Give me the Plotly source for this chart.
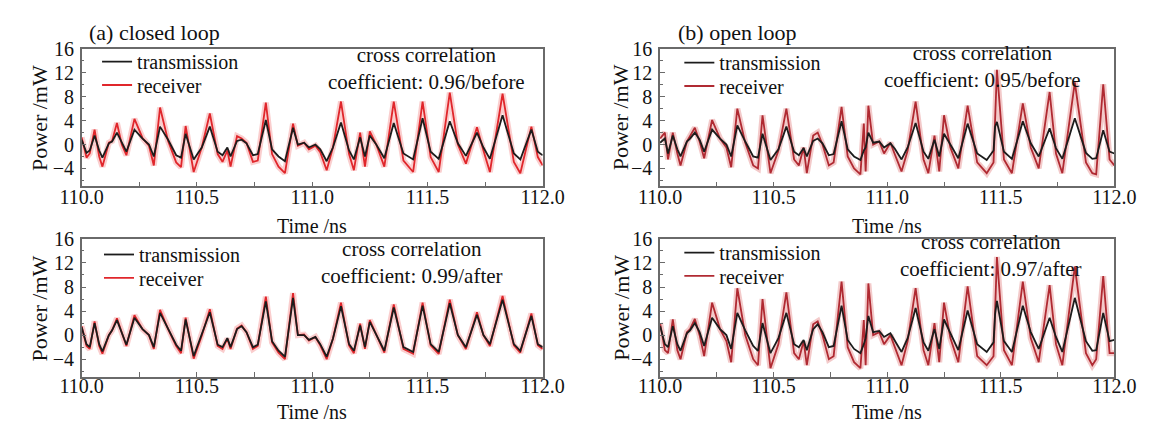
import plotly.graph_objects as go

# ---------------- data ----------------
time_left = [110.000, 110.021, 110.035, 110.056, 110.076, 110.090, 110.118, 110.132, 110.153, 110.174,
             110.194, 110.229, 110.264, 110.292, 110.313, 110.340, 110.375, 110.410, 110.431, 110.451,
             110.486, 110.521, 110.556, 110.590, 110.611, 110.632, 110.646, 110.674, 110.694, 110.715,
             110.743, 110.764, 110.799, 110.826, 110.854, 110.882, 110.917, 110.938, 110.965, 110.986,
             111.014, 111.035, 111.063, 111.090, 111.125, 111.160, 111.181, 111.208, 111.229, 111.250,
             111.278, 111.313, 111.354, 111.396, 111.438, 111.479, 111.514, 111.549, 111.597, 111.632,
             111.667, 111.715, 111.743, 111.771, 111.826, 111.875, 111.903, 111.951, 111.979, 112.000]

rx_closed_before = [1.2, -2.2, -1.5, 2.5, -2.0, -3.7, 0.3, 0.6, 3.6, 0.0,
                    -1.8, 4.3, 1.1, -0.2, -3.5, 6.2, 0.6, -3.0, -3.8, 3.1,
                    -4.6, -0.5, 5.2, -1.6, -2.9, -1.0, -3.7, 1.4, 1.0, 0.3,
                    -2.9, -2.7, 7.0, -1.6, -3.7, -4.8, 3.5, -0.2, 0.3, -0.8,
                    -0.2, -1.3, -4.3, -0.5, 7.2, -1.6, -4.3, 2.0, -3.7, 2.2,
                    0.0, -3.7, 7.2, -2.7, -4.6, 7.2, -2.1, -4.6, 8.7, 0.0,
                    -3.2, 2.9, -1.0, -4.6, 8.5, -2.9, -4.8, 3.0, -2.1, -3.5]
tx_closed_before = [0.8, -1.4, -1.0, 1.5, -1.0, -2.2, 0.2, 0.5, 2.0, 0.3,
                    -1.2, 2.5, 1.0, 0.0, -2.0, 3.0, 0.8, -1.8, -2.2, 1.8,
                    -2.5, -0.5, 3.0, -1.2, -1.8, -0.5, -2.0, 0.6, 0.8, 0.2,
                    -1.8, -1.6, 4.1, -0.8, -2.0, -2.8, 2.8, 0.0, 0.3, -0.5,
                    0.0, -0.8, -2.8, -0.5, 3.7, -1.0, -2.5, 1.2, -2.0, 1.5,
                    0.0, -2.3, 3.6, -1.5, -2.5, 4.4, -1.2, -2.4, 3.9, 0.2,
                    -1.9, 2.0, -0.5, -2.4, 4.9, -1.5, -2.5, 2.5, -1.2, -1.8]

tx_closed_after = [1.3, -1.5, -2.0, 2.0, -1.5, -2.7, 0.0, 0.8, 2.5, 0.5,
                   -1.6, 2.9, 1.0, 0.0, -2.0, 3.7, 1.0, -1.6, -2.6, 2.6,
                   -3.5, 0.0, 3.8, -1.6, -2.0, -0.5, -2.0, 1.0, 1.5, 0.5,
                   -2.0, -1.6, 5.6, -1.0, -2.6, -3.6, 6.2, 0.0, 0.0, -0.8,
                   -0.3, -1.5, -3.6, -0.6, 4.8, -1.5, -2.6, 1.6, -2.0, 2.2,
                   0.0, -2.6, 4.6, -2.0, -2.8, 4.9, -1.5, -2.8, 5.3, 0.0,
                   -2.0, 3.4, 0.0, -1.5, 5.9, -1.5, -2.6, 3.2, -1.5, -2.0]
rx_closed_after = [1.5, -1.8, -2.3, 2.3, -1.8, -3.1, 0.0, 0.8, 2.8, 0.5,
                   -1.8, 3.3, 1.0, 0.0, -2.3, 4.2, 1.0, -1.8, -3.0, 2.9,
                   -3.9, -0.1, 4.3, -1.8, -2.3, -0.6, -2.3, 1.1, 1.6, 0.5,
                   -2.3, -1.8, 6.4, -1.2, -2.9, -4.0, 7.0, 0.0, 0.1, -0.9,
                   -0.3, -1.7, -4.0, -0.6, 5.4, -1.7, -3.0, 1.9, -2.3, 2.5,
                   0.0, -2.9, 5.1, -2.3, -3.1, 5.4, -1.7, -3.1, 5.9, 0.0,
                   -2.3, 3.8, 0.0, -1.8, 6.5, -1.7, -2.9, 3.6, -1.7, -2.3]

time_right = [110.000, 110.021, 110.035, 110.056, 110.076, 110.090, 110.118, 110.132, 110.153, 110.174,
              110.194, 110.229, 110.264, 110.292, 110.313, 110.340, 110.375, 110.410, 110.431, 110.451,
              110.486, 110.521, 110.556, 110.590, 110.611, 110.632, 110.646, 110.674, 110.694, 110.715,
              110.743, 110.764, 110.799, 110.826, 110.854, 110.882, 110.897, 110.905, 110.917, 110.938,
              110.965, 110.986, 111.014, 111.035, 111.063, 111.090, 111.125, 111.160, 111.181, 111.208,
              111.229, 111.250, 111.278, 111.313, 111.354, 111.396, 111.438, 111.468, 111.475, 111.483,
              111.514, 111.549, 111.597, 111.632, 111.667, 111.715, 111.743, 111.771, 111.826, 111.875,
              111.903, 111.920, 111.951, 111.979, 112.000]

rx_open_before = [1.0, 2.0, -2.5, 2.0, -1.5, -3.5, 0.5, 1.5, 2.8, 0.5,
                  -2.3, 4.1, 1.0, -0.5, -3.8, 6.0, 0.3, -3.5, -4.0, 4.9,
                  -4.8, -1.0, 6.0, -2.5, -3.5, -0.5, -4.8, 1.5, 2.0, 0.0,
                  -3.5, -3.0, 6.3, -2.0, -4.0, -5.0, 3.5, -4.5, 6.5, 0.0,
                  0.5, -1.5, 0.3, -1.8, -4.5, -1.0, 7.2, -2.5, -4.8, 1.5,
                  -4.5, 4.9, -0.5, -4.0, 6.5, -3.0, -4.8, -3.0, 4.5, 12.5,
                  -2.5, -4.8, 6.9, -0.5, -4.0, 8.8, -1.5, -4.8, 10.4, -3.0,
                  -4.8, -5.0, 10.1, -2.5, -3.5]
tx_open_before = [0.3, 1.0, -1.5, 1.5, -0.8, -2.0, 0.5, 1.0, 2.0, 0.8,
                  -1.2, 2.5, 1.0, 0.0, -2.0, 3.2, 0.5, -2.0, -2.2, 1.8,
                  -2.6, -0.8, 3.0, -1.2, -1.8, -0.6, -2.0, 0.6, 1.0, 0.2,
                  -1.8, -1.6, 3.9, -0.8, -2.0, -2.6, -1.0, -0.5, 2.0, 0.3,
                  0.5, -0.5, 0.2, -0.8, -2.5, -0.5, 3.6, -1.2, -2.4, 0.8,
                  -2.0, 1.8, 0.0, -2.3, 3.5, -1.5, -2.6, -1.0, 3.0, 3.8,
                  -1.2, -2.4, 3.9, 0.2, -2.0, 2.7, -0.6, -2.4, 4.4, -1.4,
                  -2.4, -2.3, 2.4, -1.2, -1.5]

rx_open_after = [2.0, -2.5, -3.0, 2.6, -2.5, -4.0, 0.5, 1.0, 2.7, 0.0,
                 -3.5, 5.4, 1.0, -1.0, -4.5, 7.8, 0.0, -4.0, -5.0, 6.0,
                 -5.5, -1.5, 7.1, -3.0, -4.0, -1.0, -5.0, 1.8, 2.3, 0.0,
                 -4.0, -3.5, 8.9, -2.0, -4.5, -5.5, 2.5, -5.0, 8.6, 0.0,
                 0.5, -1.5, 0.0, -2.0, -5.0, -1.0, 7.8, -2.5, -5.0, 2.0,
                 -4.5, 5.4, -0.5, -4.5, 8.1, -3.5, -5.0, -3.5, 5.0, 13.0,
                 -2.5, -5.0, 8.9, -0.5, -4.5, 8.3, -1.5, -5.0, 11.4, -3.0,
                 -5.0, -4.0, 9.8, -3.0, -3.0]
tx_open_after = [1.5, -1.5, -2.0, 1.5, -1.5, -2.6, 0.3, 0.8, 2.0, 0.5,
                 -1.8, 2.9, 1.0, 0.0, -2.3, 3.7, 0.8, -1.8, -2.6, 2.0,
                 -3.0, -0.5, 3.7, -1.5, -2.0, -0.8, -2.5, 1.0, 1.8, 0.5,
                 -2.0, -1.8, 4.9, -0.8, -2.3, -3.0, -1.5, -0.5, 3.2, 0.5,
                 0.7, -0.3, 0.3, -1.0, -2.8, -0.5, 4.5, -1.2, -2.6, 1.0,
                 -2.3, 2.6, 0.3, -2.5, 4.1, -1.5, -2.8, -1.2, 3.5, 5.7,
                 -1.0, -2.8, 4.9, 0.5, -2.3, 2.9, -0.3, -2.8, 6.2, -1.0,
                 -2.6, -2.5, 3.7, -1.0, -0.8]

panel_titles = ["(a) closed loop", "(b) open loop"]
coef_labels = ["coefficient: 0.96/before", "coefficient: 0.99/after",
               "coefficient: 0.95/before", "coefficient: 0.97/after"]
x_ticks = [110.0, 110.5, 111.0, 111.5, 112.0]
y_ticks = [-4, 0, 4, 8, 12, 16]

# ---------------- figure ----------------
W, H = 1171, 423
FONT = "Liberation Serif"

def px_x(p):
    return p / W

def px_y(p):
    return 1 - p / H

panels = [
    dict(t=time_left, tx=tx_closed_before, rx=rx_closed_before, ax="", legs=("legend", "legend2"),
         red="#e0262b", halo="rgba(235,60,60,0.25)"),
    dict(t=time_left, tx=tx_closed_after, rx=rx_closed_after, ax="2", legs=("legend3", "legend4"),
         red="#e0262b", halo="rgba(235,60,60,0.25)"),
    dict(t=time_right, tx=tx_open_before, rx=rx_open_before, ax="3", legs=("legend5", "legend6"),
         red="#b02a32", halo="rgba(215,80,80,0.30)"),
    dict(t=time_right, tx=tx_open_after, rx=rx_open_after, ax="4", legs=("legend7", "legend8"),
         red="#b02a32", halo="rgba(215,80,80,0.30)"),
]

fig = go.Figure()
for p in panels:
    xa, ya = "x" + p["ax"], "y" + p["ax"]
    fig.add_trace(go.Scatter(x=p["t"], y=p["rx"], mode="lines", xaxis=xa, yaxis=ya,
                             line=dict(color=p["halo"], width=6), showlegend=False,
                             hoverinfo="skip"))
    fig.add_trace(go.Scatter(x=p["t"], y=p["rx"], mode="lines", xaxis=xa, yaxis=ya,
                             name="receiver", legend=p["legs"][1],
                             line=dict(color=p["red"], width=1.8)))
    fig.add_trace(go.Scatter(x=p["t"], y=p["tx"], mode="lines", xaxis=xa, yaxis=ya,
                             name="transmission", legend=p["legs"][0],
                             line=dict(color="#1c1c1c", width=1.8)))

# panel geometry (pixels)
left_x = (62, 541)
right_x = (663, 1135)
top_y = (39, 180)
bot_y = (234, 376)

geo = {
    "": (left_x, top_y, -8), "2": (left_x, bot_y, -10),
    "3": (right_x, top_y, -8), "4": (right_x, bot_y, -10),
}

axis_common = dict(showline=True, linecolor="#6a6a6a", linewidth=1.5, mirror=True,
                   ticks="inside", ticklen=5, tickwidth=1.2, tickcolor="#6a6a6a",
                   showgrid=False, zeroline=False,
                   tickfont=dict(family=FONT, size=20, color="#111"))

layout = dict(width=W, height=H, margin=dict(l=0, r=0, t=0, b=0),
              paper_bgcolor="white", plot_bgcolor="white", showlegend=True)

for k, (gx, gy, sto) in geo.items():
    layout["xaxis" + k] = dict(axis_common, domain=[px_x(gx[0]), px_x(gx[1])],
                               range=[110, 112], tickvals=x_ticks, tickformat=".1f",
                               minor=dict(dtick=0.25, ticks="inside", ticklen=5,
                                          tickcolor="#6a6a6a"),
                               anchor="y" + k, ticklabelstandoff=sto)
    layout["yaxis" + k] = dict(axis_common, domain=[px_y(gy[1]), px_y(gy[0])],
                               range=[-7, 16], tickvals=y_ticks,
                               minor=dict(dtick=2, ticks="inside", ticklen=3,
                                          tickcolor="#6a6a6a"),
                               anchor="x" + k, ticklabelstandoff=2)

leg_common = dict(bgcolor="rgba(0,0,0,0)", font=dict(family=FONT, size=20, color="#111"),
                  xanchor="left", yanchor="middle", itemwidth=30)
leg_pos = {"legend": (78, 52), "legend2": (78, 76),
           "legend3": (80, 250), "legend4": (80, 274),
           "legend5": (683, 53), "legend6": (683, 77),
           "legend7": (683, 248), "legend8": (683, 272)}
for name, (lx, ly) in leg_pos.items():
    layout[name] = dict(leg_common, x=px_x(lx), y=px_y(ly))

fig.update_layout(**layout)

ann = []
tf = dict(family=FONT, size=22, color="#111")
# panel titles
ann.append(dict(text=panel_titles[0], x=px_x(68), y=px_y(22), xanchor="left", yanchor="middle"))
ann.append(dict(text=panel_titles[1], x=px_x(680), y=px_y(22), xanchor="left", yanchor="middle"))
# axis titles
for cx in (301, 899):
    for cy in (221, 412):
        ann.append(dict(text="Time /ns", x=px_x(cx), y=px_y(cy), xanchor="center", yanchor="middle",
                        font=dict(family=FONT, size=20, color="#111")))
for cx in (18, 622):
    for (a, b) in (top_y, bot_y):
        ann.append(dict(text="Power /mW", x=px_x(cx), y=px_y((a + b) / 2), xanchor="center",
                        yanchor="middle", textangle=-90))
# cross-correlation labels (two lines, one text block)
coef_pos = [(420, 59.5), (405, 258.5), (998, 56.5), (1007, 251.5)]
for (cx, cy), lab in zip(coef_pos, coef_labels):
    ann.append(dict(text="cross correlation<br>" + lab, x=px_x(cx), y=px_y(cy),
                    xanchor="center", yanchor="middle", align="center",
                    font=dict(family=FONT, size=21, color="#111")))

for a in ann:
    a.update(xref="paper", yref="paper", showarrow=False)
    a.setdefault("font", tf)
fig.update_layout(annotations=ann)

fig.write_html("out.html")
